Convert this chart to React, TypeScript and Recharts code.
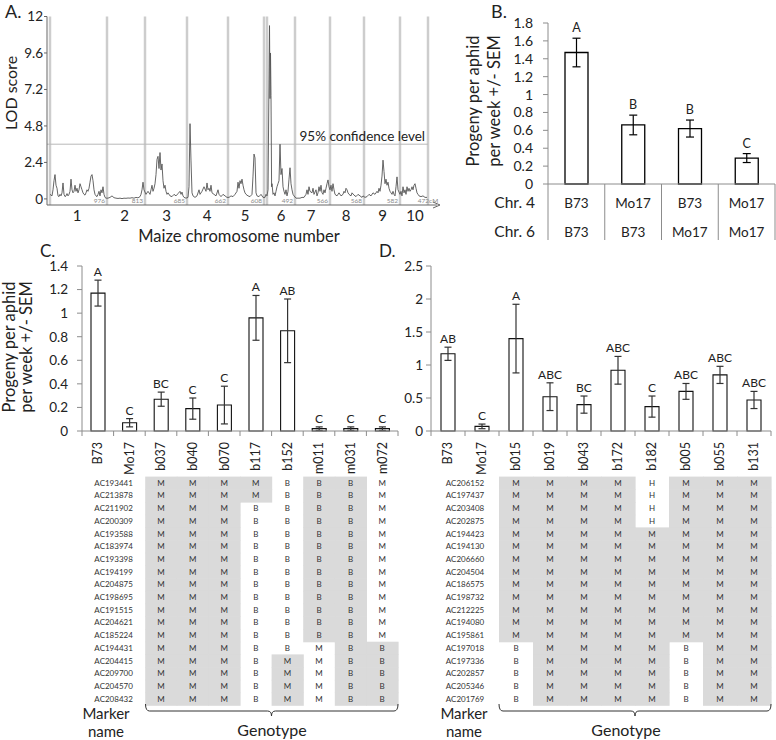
import React from 'react'
import {
  ComposedChart, ScatterChart, Bar, Line, Scatter, ErrorBar, XAxis, YAxis,
  ReferenceLine, LabelList,
} from 'recharts'

const FONT = 'Lato, "Open Sans", sans-serif'
const INK = '#222'
const AXIS = '#8c8c8c'
const SHADE = '#dadada'

// ---------- A: QTL scan ----------
const chromNames = ['1', '2', '3', '4', '5', '6', '7', '8', '9', '10']
const chromCenters = [77, 124.5, 166.5, 207, 245, 281, 311, 346, 382.5, 415]
const chromEnds = [107, 145, 187, 228, 264, 295, 330, 364, 400, 428]
const chromLengths = ['976', '813', '685', '662', '608', '492', '566', '568', '582', '472cM']
const chromStarts = [50, 267]
const lodTicks = [0, 2.4, 4.8, 7.2, 9.6, 12]
const lodThreshold = 3.6

const lodChr1 = [
  [50, 0.3], [52, 0.2], [53, 0.6], [54, 1.2], [55, 1.6], [56, 0.9], [57, 0.7], [58, 0.2], [59, 0.15], [60, 0.3],
  [61, 0.2], [62, 0.4], [63, 1.05], [64, 0.3], [65, 0.15], [66, 0.2], [67, 0.35], [68, 0.2], [69, 0.3], [70, 0.5],
  [71, 1.3], [72, 0.6], [73, 0.4], [74, 0.5], [75, 0.9], [76, 0.5], [77, 0.7], [78, 0.4], [79, 0.6], [80, 1.0],
  [81, 0.8], [82, 0.6], [83, 0.4], [84, 0.3], [85, 0.25], [86, 0.4], [87, 0.6], [88, 0.5], [89, 0.7], [90, 1.1],
  [91, 1.5], [92, 1.6], [93, 1.2], [94, 0.6], [95, 0.3], [96, 0.2], [97, 0.15], [98, 0.3], [99, 0.5], [100, 0.2],
  [101, 0.6], [102, 0.4], [103, 0.8], [104, 0.3], [105, 0.1], [106, 0.05],
]
const lodChr2 = [
  [108, 0.05], [110, 0.1], [112, 0.2], [114, 0.08], [116, 0.05], [118, 0.03], [120, 0.05], [122, 0.02],
  [124, 0.05], [126, 0.04], [128, 0.06], [130, 0.05], [132, 0.08], [134, 0.05], [136, 0.1], [138, 0.07],
  [140, 0.15], [141, 0.3], [142, 0.6], [143, 1.1], [144, 0.6],
]
const lodChr3 = [
  [146, 0.3], [148, 0.5], [150, 0.3], [151, 0.6], [152, 0.9], [153, 0.5], [154, 0.7], [155, 1.0], [156, 1.6],
  [157, 2.6], [158, 2.8], [159, 2.0], [160, 3.05], [161, 1.9], [162, 2.3], [163, 1.2], [164, 0.7], [165, 0.9],
  [166, 0.5], [167, 0.3], [168, 0.4], [170, 0.2], [172, 0.15], [174, 0.3], [176, 0.2], [178, 0.35], [180, 0.5],
  [181, 0.3], [182, 0.45], [183, 0.2], [184, 0.1], [186, 0.05],
]
const lodChr4 = [
  [188, 0.1], [189, 0.8], [190, 4.95], [191, 2.5], [192, 0.4], [193, 0.2], [195, 0.1], [197, 0.2], [199, 0.6],
  [200, 0.3], [202, 0.5], [204, 0.8], [206, 0.5], [207, 1.05], [208, 0.6], [209, 0.7], [210, 0.5], [211, 0.9],
  [212, 0.4], [214, 0.3], [216, 0.2], [218, 0.6], [219, 0.3], [221, 0.15], [223, 0.3], [225, 0.2], [227, 0.1],
]
const lodChr5 = [
  [229, 0.1], [231, 0.2], [233, 0.15], [235, 0.3], [237, 0.5], [238, 1.1], [239, 0.7], [240, 1.2], [241, 1.0],
  [242, 1.3], [243, 0.9], [244, 0.6], [245, 0.4], [246, 0.3], [248, 0.2], [250, 0.15], [252, 0.3], [253, 1.5],
  [254, 2.95], [255, 2.7], [256, 0.4], [257, 0.2], [259, 0.15], [261, 0.3], [263, 0.1],
]
const lodChr6 = [
  [265, 0.1], [266, 0.3], [267, 0.2], [268, 0.6], [269.5, 11.4], [270, 6.6], [270.5, 9.6], [271, 6.8],
  [271.6, 0.8], [272, 1.0], [273, 0.3], [274, 0.4], [275, 0.2], [276, 0.5], [277, 0.8], [278, 1.0], [279, 1.2],
  [280, 3.6], [281, 1.6], [282, 2.0], [283, 0.8], [284, 0.5], [285, 0.3], [286, 0.6], [287, 0.2], [288, 0.5],
  [289, 1.3], [290, 2.05], [291, 1.0], [292, 0.6], [293, 0.3], [294, 0.2],
]
const lodChr7 = [
  [296, 0.05], [298, 0.05], [300, 0.05], [302, 0.1], [304, 0.1], [306, 0.3], [307, 0.6], [308, 0.3], [309, 0.8],
  [310, 0.5], [312, 0.4], [313, 0.7], [314, 0.3], [316, 0.6], [317, 0.2], [318, 0.4], [319, 0.8], [320, 0.5],
  [321, 0.9], [322, 0.4], [323, 0.3], [324, 0.6], [325, 0.4], [326, 0.7], [327, 1.0], [328, 1.25], [329, 0.8],
  [330, 0.6],
]
const lodChr8 = [
  [331, 0.9], [332, 0.5], [333, 1.0], [334, 0.6], [335, 0.3], [337, 0.2], [339, 0.4], [341, 0.2], [343, 0.3],
  [344, 0.5], [345, 0.4], [346, 0.7], [347, 0.6], [348, 0.4], [349, 0.3], [351, 0.2], [352, 0.4], [354, 0.25],
  [356, 0.15], [358, 0.3], [360, 0.2], [362, 0.1], [363, 0.2],
]
const lodChr9 = [
  [365, 0.1], [367, 0.15], [369, 0.3], [371, 0.2], [373, 0.4], [375, 0.3], [377, 0.5], [378, 0.4], [379, 0.7],
  [380, 0.5], [381, 0.9], [382, 1.5], [383, 2.55], [384, 1.8], [385, 1.0], [386, 1.3], [387, 0.9], [388, 1.1],
  [389, 0.7], [390, 0.5], [391, 0.4], [392, 0.3], [393, 0.5], [394, 0.3], [395, 0.2], [396, 0.8], [397, 1.45],
  [398, 0.6],
]
const lodChr10 = [
  [400, 0.3], [401, 0.5], [402, 0.2], [403, 0.8], [404, 0.4], [405, 0.6], [406, 0.3], [407, 0.8], [408, 0.5],
  [409, 0.7], [410, 0.5], [411, 0.6], [412, 0.8], [413, 0.6], [414, 0.9], [415, 1.0], [416, 0.7], [417, 0.4],
  [418, 0.3], [419, 0.2], [421, 0.15], [423, 0.2], [425, 0.1], [427, 0.1],
]

// ---------- B: chr4 x chr6 genotype classes ----------
const bChr4 = ['B73', 'Mo17', 'B73', 'Mo17']
const bChr6 = ['B73', 'B73', 'Mo17', 'Mo17']
const bMeans = [1.47, 0.66, 0.62, 0.29]
const bSem = [0.16, 0.11, 0.095, 0.05]
const bLetters = ['A', 'B', 'B', 'C']
const bTicks = [0, 0.2, 0.4, 0.6, 0.8, 1, 1.2, 1.4, 1.6, 1.8]

// ---------- C: chr4 lines ----------
const cLines = ['B73', 'Mo17', 'b037', 'b040', 'b070', 'b117', 'b152', 'm011', 'm031', 'm072']
const cMeans = [1.17, 0.07, 0.27, 0.19, 0.22, 0.96, 0.85, 0.02, 0.02, 0.02]
const cSem = [0.11, 0.035, 0.06, 0.09, 0.16, 0.19, 0.27, 0.015, 0.015, 0.015]
const cLetters = ['A', 'C', 'BC', 'C', 'C', 'A', 'AB', 'C', 'C', 'C']
const cTicks = [0, 0.2, 0.4, 0.6, 0.8, 1, 1.2, 1.4]
const cMarkers = [
  'AC193441', 'AC213878', 'AC211902', 'AC200309', 'AC193588', 'AC183974', 'AC193398', 'AC194199', 'AC204875',
  'AC198695', 'AC191515', 'AC204621', 'AC185224', 'AC194431', 'AC204415', 'AC209700', 'AC204570', 'AC208432',
]
const cGenotypes: Record<string, string> = {
  b037: 'MMMMMMMMMMMMMMMMMM',
  b040: 'MMMMMMMMMMMMMMMMMM',
  b070: 'MMMMMMMMMMMMMMMMMM',
  b117: 'MMBBBBBBBBBBBBBBBB',
  b152: 'BBBBBBBBBBBBBBMMMM',
  m011: 'BBBBBBBBBBBBBMMMMM',
  m031: 'BBBBBBBBBBBBBBBBBB',
  m072: 'MMMMMMMMMMMMMBBBBB',
}

// ---------- D: chr6 lines ----------
const dLines = ['B73', 'Mo17', 'b015', 'b019', 'b043', 'b172', 'b182', 'b005', 'b055', 'b131']
const dMeans = [1.17, 0.07, 1.4, 0.52, 0.4, 0.92, 0.37, 0.6, 0.85, 0.47]
const dSem = [0.1, 0.035, 0.52, 0.21, 0.13, 0.21, 0.16, 0.12, 0.13, 0.13]
const dLetters = ['AB', 'C', 'A', 'ABC', 'BC', 'ABC', 'C', 'ABC', 'ABC', 'ABC']
const dTicks = [0, 0.5, 1, 1.5, 2, 2.5]
const dMarkers = [
  'AC206152', 'AC197437', 'AC203408', 'AC202875', 'AC194423', 'AC194130', 'AC206660', 'AC204504', 'AC186575',
  'AC198732', 'AC212225', 'AC194080', 'AC195861', 'AC197018', 'AC197336', 'AC202857', 'AC205346', 'AC201769',
]
const dGenotypes: Record<string, string> = {
  b015: 'MMMMMMMMMMMMMBBBBB',
  b019: 'MMMMMMMMMMMMMMMMMM',
  b043: 'MMMMMMMMMMMMMMMMMM',
  b172: 'MMMMMMMMMMMMMMMMMM',
  b182: 'HHHHMMMMMMMMMMMMMM',
  b005: 'MMMMMMMMMMMMMBBBBB',
  b055: 'MMMMMMMMMMMMMMMMMM',
  b131: 'MMMMMMMMMMMMMMMMMM',
}

const lodData = [
  ...lodChr1, ...lodChr2, ...lodChr3, ...lodChr4, ...lodChr5,
  ...lodChr6, ...lodChr7, ...lodChr8, ...lodChr9, ...lodChr10,
].map(([pos, lod]) => ({ pos, lod }))

const barRows = (names: string[], means: number[], sems: number[], letters: string[]) =>
  names.map((name, i) => ({ name, mean: means[i], sem: sems[i], top: means[i] + sems[i], letter: letters[i] }))

// introgressed segment is shaded: Mo17 calls in b-lines, B73 calls in m-lines
const cellRows = (lines: string[], geno: Record<string, string>) => {
  const out: any[] = []
  lines.forEach((line, col) => {
    const s = geno[line]
    if (!s) return
    s.split('').forEach((g, row) => {
      out.push({ col, row, g, shaded: line[0] === 'b' ? g === 'M' : g === 'B' })
    })
  })
  return out
}

const ROW_H = 12.7

const PanelA = () => (
  <ComposedChart width={445} height={246} data={lodData} margin={{ top: 16.5, right: 8, bottom: 0, left: 0 }}>
    <XAxis
      type="number" dataKey="pos" domain={[47, 437]} ticks={chromCenters} interval={0} allowDataOverflow
      tickFormatter={(v: number) => chromNames[chromCenters.indexOf(v)]}
      height={41} tickLine={false} tickSize={0} tickMargin={5} stroke="#666" tick={{ fontSize: 15, fill: INK }}
    />
    <YAxis
      type="number" domain={[-0.4, 12]} ticks={lodTicks} interval={0} allowDataOverflow
      width={47} tickSize={3} tickMargin={1} stroke="#666" tick={{ fontSize: 13.5, fill: INK }}
    />
    {chromStarts.map((x) => (
      <ReferenceLine key={'s' + x} x={x} stroke="#cdcdcd" strokeWidth={2.5} />
    ))}
    {chromEnds.map((x, i) => (
      <ReferenceLine
        key={'e' + x} x={x} stroke="#cdcdcd" strokeWidth={2.5}
        label={{
          value: chromLengths[i],
          position: i === chromEnds.length - 1 ? 'insideBottom' : 'insideBottomRight',
          offset: 2, fontSize: 6.5, fill: '#8a8a8a',
        }}
      />
    ))}
    <ReferenceLine
      segment={[{ x: 47, y: lodThreshold }, { x: 428, y: lodThreshold }]} stroke="#b8b8b8"
      label={{ value: '95% confidence level', position: 'insideBottomRight', offset: 3, fontSize: 13.5, fill: INK }}
    />
    <Line type="linear" dataKey="lod" stroke="#555" strokeWidth={0.9} dot={false} activeDot={false} isAnimationActive={false} />
  </ComposedChart>
)

const bData = bMeans.map((mean, i) => ({
  key: i, chr4: bChr4[i], chr6: bChr6[i], mean, sem: bSem[i], top: mean + bSem[i], letter: bLetters[i],
}))
const B_W = 321
const B_YAXIS = 93
const bBand = (B_W - B_YAXIS - 1) / bData.length

const ChrTick = (props: any) => {
  const { x, y, payload } = props
  const i = payload.value
  const d = bData[i]
  const h = bBand / 2
  return (
    <g>
      <line x1={x - h} x2={x - h} y1={y} y2={y + 56} stroke={AXIS} />
      {i === bData.length - 1 && <line x1={x + h} x2={x + h} y1={y} y2={y + 56} stroke={AXIS} />}
      <text x={x} y={y + 19} dy="0.35em" textAnchor="middle" fontSize={13.5} fill={INK}>{d.chr4}</text>
      <text x={x} y={y + 48} dy="0.35em" textAnchor="middle" fontSize={13.5} fill={INK}>{d.chr6}</text>
    </g>
  )
}

const PanelB = () => (
  <ComposedChart width={B_W} height={250} data={bData} margin={{ top: 23, right: 1, bottom: 0, left: 0 }}>
    <XAxis dataKey="key" height={66} interval={0} tick={ChrTick} tickLine={false} tickSize={0} tickMargin={0} stroke={AXIS} />
    <YAxis
      domain={[0, 1.8]} ticks={bTicks} interval={0} width={B_YAXIS}
      tickSize={5} tickMargin={10} stroke={AXIS} tick={{ fontSize: 14, fill: INK }}
    />
    <Bar dataKey="mean" fill="#fff" stroke="#000" strokeWidth={1.3} barSize={23} isAnimationActive={false}>
      <ErrorBar dataKey="sem" width={4} stroke="#000" strokeWidth={1.2} />
    </Bar>
    <Line dataKey="top" stroke="none" dot={false} activeDot={false} isAnimationActive={false}>
      <LabelList dataKey="letter" position="top" offset={6} fontSize={12.5} fill={INK} />
    </Line>
  </ComposedChart>
)

const makeRotTick = (rows: any[], bw: number) => (props: any) => {
  const { x, y, payload, index } = props
  const i = typeof index === 'number' ? index : rows.findIndex((r) => r.name === payload.value)
  const ty = y + 11
  return (
    <g>
      <line x1={x - bw / 2} x2={x - bw / 2} y1={y} y2={y + 5} stroke={AXIS} />
      {i === rows.length - 1 && <line x1={x + bw / 2} x2={x + bw / 2} y1={y} y2={y + 5} stroke={AXIS} />}
      <text x={x} y={ty} dy="0.35em" transform={`rotate(-90 ${x} ${ty})`} textAnchor="end" fontSize={12.5} fill={INK}>
        {payload.value}
      </text>
    </g>
  )
}

const BarPanel = ({ rows, ticks, max, width, yAxisW, right }: any) => {
  const bw = (width - yAxisW - right) / rows.length
  return (
    <ComposedChart width={width} height={230} data={rows} margin={{ top: 16, right, bottom: 0, left: 0 }}>
      <XAxis dataKey="name" height={49} interval={0} tick={makeRotTick(rows, bw)} tickLine={false} tickSize={0} tickMargin={0} stroke={AXIS} />
      <YAxis
        domain={[0, max]} ticks={ticks} interval={0} width={yAxisW}
        tickSize={5} tickMargin={yAxisW > 60 ? 9 : 3} stroke={AXIS} tick={{ fontSize: 13.5, fill: INK }}
      />
      <Bar dataKey="mean" fill="#fff" stroke="#111" strokeWidth={1.1} barSize={14} isAnimationActive={false}>
        <ErrorBar dataKey="sem" width={3.5} stroke="#333" strokeWidth={1.2} />
      </Bar>
      <Line dataKey="top" stroke="none" dot={false} activeDot={false} isAnimationActive={false}>
        <LabelList dataKey="letter" position="top" offset={4} fontSize={12} fill={INK} />
      </Line>
    </ComposedChart>
  )
}

const makeCellShape = (bw: number) => (props: any) => {
  const { cx, cy, payload } = props
  return (
    <g>
      {payload.shaded && <rect x={cx - bw / 2} y={cy - ROW_H / 2} width={bw + 0.6} height={ROW_H + 0.6} fill={SHADE} />}
      <text x={cx} y={cy} dy="0.35em" textAnchor="middle" fontSize={8} fill="#333">{payload.g}</text>
    </g>
  )
}

const NameShape = (props: any) => (
  <text x={props.cx} y={props.cy} dy="0.35em" textAnchor="middle" fontSize={8} fill="#333">{props.payload.name}</text>
)

const TablePanel = ({ lines, markers, geno, width, left, right }: any) => {
  const bw = (width - left - right) / lines.length
  const cells = cellRows(lines, geno)
  const names = markers.map((name: string, row: number) => ({ col: 0.5, row, name }))
  return (
    <ScatterChart width={width} height={242} margin={{ top: 6.6, right, bottom: 6.8, left }}>
      <XAxis type="number" dataKey="col" domain={[-0.5, lines.length - 0.5]} hide />
      <YAxis type="number" dataKey="row" domain={[-0.5, markers.length - 0.5]} reversed hide />
      <Scatter data={cells} shape={makeCellShape(bw)} isAnimationActive={false} />
      <Scatter data={names} shape={NameShape} isAnimationActive={false} />
    </ScatterChart>
  )
}

const T = (p: any) => <text fill={INK} dy="0.35em" {...p} />

const Overlay = () => (
  <svg width={776} height={740} style={{ position: 'absolute', left: 0, top: 0, pointerEvents: 'none' }}>
    <T x={5} y={12} fontSize={18}>A.</T>
    <T x={491} y={12} fontSize={18}>B.</T>
    <T x={40} y={251} fontSize={17}>C.</T>
    <T x={379} y={251} fontSize={17}>D.</T>
    <T x={11} y={93} fontSize={16} textAnchor="middle" transform="rotate(-90 11 93)">LOD score</T>
    <T x={239} y={236} fontSize={16.5} textAnchor="middle">Maize chromosome number</T>
    <path d="M433,202 L440,205 L433,208" fill="none" stroke="#666" />

    <T x={473} y={101} fontSize={16.5} textAnchor="middle" transform="rotate(-90 473 101)">Progeny per aphid</T>
    <T x={494} y={101} fontSize={16.5} textAnchor="middle" transform="rotate(-90 494 101)">per week +/- SEM</T>
    <T x={535} y={203} fontSize={15.5} textAnchor="end">Chr. 4</T>
    <T x={535} y={232} fontSize={15.5} textAnchor="end">Chr. 6</T>

    <T x={9} y={347} fontSize={16.5} textAnchor="middle" transform="rotate(-90 9 347)">Progeny per aphid</T>
    <T x={26} y={347} fontSize={16.5} textAnchor="middle" transform="rotate(-90 26 347)">per week +/- SEM</T>

    <T x={106} y={714} fontSize={15} textAnchor="middle">Marker</T>
    <T x={106} y={732} fontSize={15} textAnchor="middle">name</T>
    <T x={272} y={730} fontSize={16} textAnchor="middle">Genotype</T>
    <path d="M145.5,704 Q145.5,711 149.5,711 L267.5,711 Q271.5,711 271.5,716 Q271.5,711 275.5,711 L394,711 Q398,711 398,704" fill="none" stroke="#333" />

    <T x={464} y={714} fontSize={15} textAnchor="middle">Marker</T>
    <T x={464} y={732} fontSize={15} textAnchor="middle">name</T>
    <T x={626} y={730} fontSize={16} textAnchor="middle">Genotype</T>
    <path d="M499,704 Q499,711 503,711 L631,711 Q635,711 635,716 Q635,711 639,711 L767,711 Q771,711 771,704" fill="none" stroke="#333" />
  </svg>
)

export default function App() {
  const cRows = barRows(cLines, cMeans, cSem, cLetters)
  const dRows = barRows(dLines, dMeans, dSem, dLetters)
  return (
    <div style={{ position: 'absolute', left: 0, top: 0, width: 776, height: 740, background: '#fff', fontFamily: FONT, color: INK, overflow: 'hidden' }}>
      <div style={{ position: 'absolute', left: 0, top: 0 }}><PanelA /></div>
      <div style={{ position: 'absolute', left: 455, top: 0 }}><PanelB /></div>
      <div style={{ position: 'absolute', left: 0, top: 250 }}>
        <BarPanel rows={cRows} ticks={cTicks} max={1.4} width={400} yAxisW={82} right={2} />
      </div>
      <div style={{ position: 'absolute', left: 390, top: 250 }}>
        <BarPanel rows={dRows} ticks={dTicks} max={2.5} width={386} yAxisW={41} right={5} />
      </div>
      <div style={{ position: 'absolute', left: 0, top: 470 }}>
        <TablePanel lines={cLines} markers={cMarkers} geno={cGenotypes} width={400} left={82} right={2} />
      </div>
      <div style={{ position: 'absolute', left: 390, top: 470 }}>
        <TablePanel lines={dLines} markers={dMarkers} geno={dGenotypes} width={386} left={41} right={5} />
      </div>
      <Overlay />
    </div>
  )
}
